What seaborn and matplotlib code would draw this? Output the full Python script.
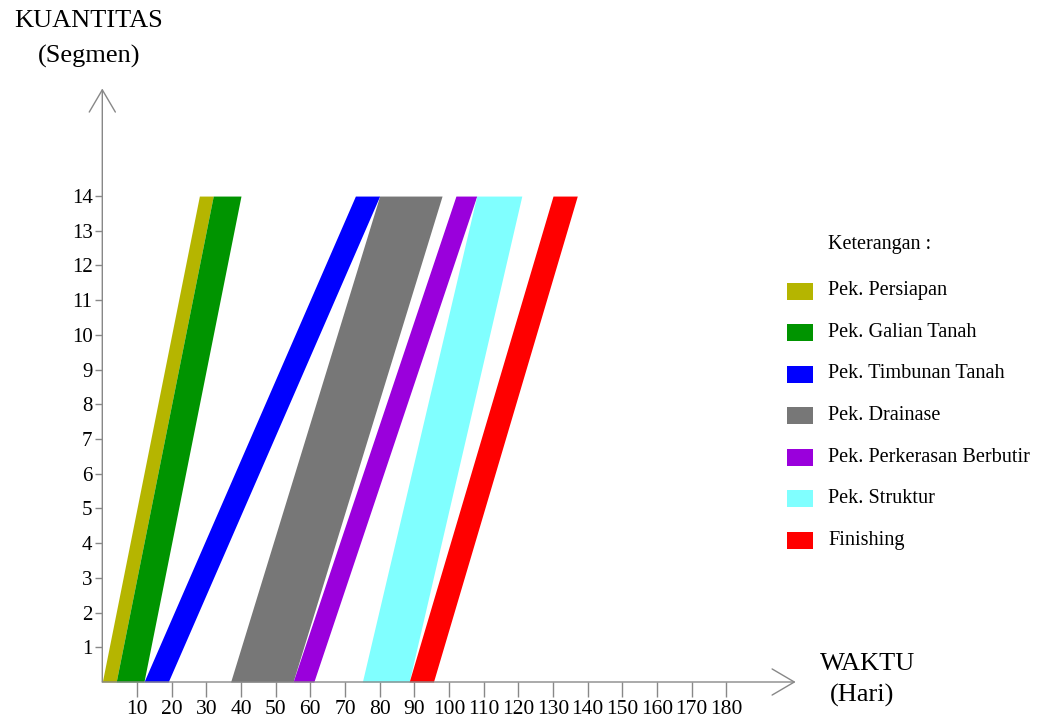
import matplotlib
matplotlib.use("Agg")
import matplotlib.pyplot as plt
from matplotlib.patches import Rectangle
import seaborn as sns

# ---- data (days / segments) ----
activities = ["Pek. Persiapan", "Pek. Galian Tanah", "Pek. Timbunan Tanah",
              "Pek. Drainase", "Pek. Perkerasan Berbutir", "Pek. Struktur", "Finishing"]
start_bottom = [0, 4, 12, 37, 55, 75, 88.5]
end_bottom   = [4, 12, 19, 55, 61, 88.5, 95.5]
start_top    = [28, 32, 73, 80, 102, 108, 130]
end_top      = [32, 40, 80, 98, 108, 121, 137]
segments = [0, 14]
colors = ["#B5B500", "#009400", "#0000FF", "#777777", "#9A00DC", "#80FFFF", "#FF0000"]
x_ticks = list(range(10, 190, 10))
y_ticks = list(range(1, 15))

sns.set_theme(style="white")
plt.rcParams["font.family"] = ["Liberation Serif", "DejaVu Serif"]
plt.rcParams["text.color"] = "black"
plt.rcParams["xtick.color"] = "black"
plt.rcParams["ytick.color"] = "black"

W, H = 1037, 725
fig = plt.figure(figsize=(W / 100, H / 100), dpi=100)
x0px, x1px = 102.3, 102.3 + 200 * 3.467
y0px = 682
ppu = 34.71
ytop = 17.1
ax = fig.add_axes([x0px / W, (H - y0px) / H, (x1px - x0px) / W, ytop * ppu / H])
ax.set_xlim(0, 200)
ax.set_ylim(0, ytop)

for i, name in enumerate(activities):
    ax.fill_betweenx(segments, [start_bottom[i], start_top[i]], [end_bottom[i], end_top[i]],
                     color=colors[i], linewidth=0, label=name)

for s in ax.spines.values():
    s.set_visible(False)

arrow_style = "->,head_length=0.8,head_width=0.47"
ax.annotate("", xy=(200, 0), xytext=(0, 0), xycoords="data",
            arrowprops=dict(arrowstyle=arrow_style, color="#888888", lw=1.0,
                            mutation_scale=20, shrinkA=0, shrinkB=0), annotation_clip=False)
ax.annotate("", xy=(0, ytop), xytext=(0, 0), xycoords="data",
            arrowprops=dict(arrowstyle=arrow_style, color="#888888", lw=1.0,
                            mutation_scale=20, shrinkA=0, shrinkB=0), annotation_clip=False)

ax.set_xticks(x_ticks)
ax.set_xticklabels([str(t) for t in x_ticks])
ax.set_yticks(y_ticks)
ax.set_yticklabels([str(t) for t in y_ticks])
ax.tick_params(axis="x", direction="out", length=11, width=1, color="#888888",
               labelsize=15.5, pad=2, bottom=True, labelcolor="black")
ax.tick_params(axis="y", direction="out", length=5, width=1, color="#888888",
               labelsize=15, pad=2, left=True, labelcolor="black")
ax.grid(False)

# axis titles
fig.text(89 / W, 1 - 21 / H, "KUANTITAS", ha="center", va="center", fontsize=19)
fig.text(89 / W, 1 - 56 / H, "(Segmen)", ha="center", va="center", fontsize=19)
fig.text(868 / W, 1 - 664 / H, "WAKTU", ha="center", va="center", fontsize=19)
fig.text(862 / W, 1 - 695 / H, "(Hari)", ha="center", va="center", fontsize=19)

# legend
fig.text(828 / W, 1 - 245 / H, "Keterangan :", ha="left", va="center", fontsize=14.5)
for i, name in enumerate(activities):
    yc = 291 + i * 41.5
    fig.patches.append(Rectangle((787 / W, 1 - (yc + 8.5) / H), 26 / W, 17 / H,
                                 transform=fig.transFigure, facecolor=colors[i],
                                 edgecolor="none"))
    fig.text(828 / W, 1 - yc / H, name, ha="left", va="center", fontsize=14.6)

fig.savefig("out.png", dpi=100)
